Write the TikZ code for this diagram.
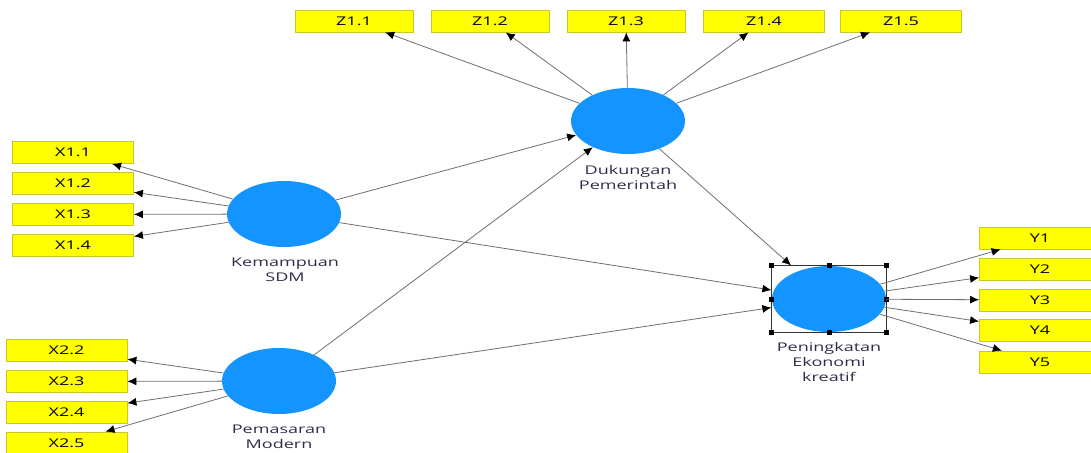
\documentclass[tikz,border=0pt]{standalone}
\usepackage{fontspec}
\setmainfont{Open Sans}
\usetikzlibrary{shapes.geometric,arrows.meta,fit}
\definecolor{indyellow}{RGB}{255,255,0}
\definecolor{indborder}{RGB}{200,200,40}
\definecolor{latblue}{RGB}{20,148,255}
\definecolor{linegray}{RGB}{110,110,110}
\definecolor{labelnavy}{RGB}{45,45,75}
\newcommand{\widetext}[1]{\scalebox{1.5}[1]{#1}}
\begin{document}
\begin{tikzpicture}[
    x=1pt, y=-1pt,
    font=\fontsize{12}{15}\selectfont,
    % indicators and latent variables
    ind/.style={rectangle, draw=indborder, fill=indyellow, line width=0.8pt,
        minimum width=121pt, minimum height=22pt, inner sep=0pt},
    lat/.style={ellipse, fill=latblue, minimum width=114pt, minimum height=66pt, inner sep=0pt},
    latlabel/.style={align=center, inner sep=0pt, text=labelnavy},
    selbox/.style={rectangle, draw=black!80, line width=0.8pt, inner sep=0pt},
    handle/.style={rectangle, fill=black, minimum size=5pt, inner sep=0pt},
    arr/.style={draw=linegray, line width=0.8pt,
        -{Latex[color=black, length=9pt, width=8pt]}},
]
\useasboundingbox (0,0) rectangle (1091,452);

% =========================================================
% Latent variables
% =========================================================
\node[lat] (DP)  at (628, 121) {};
\node[lat] (KS)  at (284, 214) {};
\node[lat] (PM)  at (279, 381) {};
\node[lat] (PEK) at (829, 299) {};

\node[latlabel] (DPlab)  at (628, 177) {\widetext{Dukungan}\\\widetext{Pemerintah}};
\node[latlabel] (KSlab)  at (285, 270) {\widetext{Kemampuan}\\\widetext{SDM}};
\node[latlabel] (PMlab)  at (279, 437) {\widetext{Pemasaran}\\\widetext{Modern}};
\node[latlabel] (PEKlab) at (829, 362) {\widetext{Peningkatan}\\\widetext{Ekonomi}\\\widetext{kreatif}};

% selection frame
\node[selbox, fit=(PEK)] (PEKsel) {};
\node[handle] (h1) at (PEKsel.north west) {};
\node[handle] (h2) at (PEKsel.north) {};
\node[handle] (h3) at (PEKsel.north east) {};
\node[handle] (h4) at (PEKsel.east) {};
\node[handle] (h5) at (PEKsel.south east) {};
\node[handle] (h6) at (PEKsel.south) {};
\node[handle] (h7) at (PEKsel.south west) {};
\node[handle] (h8) at (PEKsel.west) {};

% =========================================================
% Indicators
% =========================================================
\node[ind, minimum width=118pt] (Z11) at (354, 21) {\widetext{Z1.1}};
\node[ind, minimum width=118pt] (Z12) at (490, 21) {\widetext{Z1.2}};
\node[ind, minimum width=118pt] (Z13) at (626, 21) {\widetext{Z1.3}};
\node[ind] (Z14) at (764, 21) {\widetext{Z1.4}};
\node[ind] (Z15) at (901, 21) {\widetext{Z1.5}};

\node[ind] (X11) at (73, 152.5) {\widetext{X1.1}};
\node[ind] (X12) at (73, 183.5) {\widetext{X1.2}};
\node[ind] (X13) at (73, 214.5) {\widetext{X1.3}};
\node[ind] (X14) at (73, 245.5) {\widetext{X1.4}};

\node[ind] (X22) at (66.5, 350.5) {\widetext{X2.2}};
\node[ind] (X23) at (66.5, 381.5) {\widetext{X2.3}};
\node[ind] (X24) at (66.5, 412) {\widetext{X2.4}};
\node[ind] (X25) at (66.5, 443) {\widetext{X2.5}};

\node[ind] (Y1) at (1040, 238) {\widetext{Y1}};
\node[ind] (Y2) at (1040, 269) {\widetext{Y2}};
\node[ind] (Y3) at (1040, 300) {\widetext{Y3}};
\node[ind] (Y4) at (1040, 330.5) {\widetext{Y4}};
\node[ind] (Y5) at (1040, 362) {\widetext{Y5}};

% =========================================================
% Loadings
% =========================================================
\draw[arr] (DP) -- (Z11);
\draw[arr] (DP) -- (Z12);
\draw[arr] (DP) -- (Z13);
\draw[arr] (DP) -- (Z14);
\draw[arr] (DP) -- (Z15);

\draw[arr] (KS) -- (X11);
\draw[arr] (KS) -- (X12);
\draw[arr] (KS) -- (X13);
\draw[arr] (KS) -- (X14);

\draw[arr] (PM) -- (X22);
\draw[arr] (PM) -- (X23);
\draw[arr] (PM) -- (X24);
\draw[arr] (PM) -- (X25);

\draw[arr] (PEK) -- (Y1);
\draw[arr] (PEK) -- (Y2);
\draw[arr] (PEK) -- (Y3);
\draw[arr] (PEK) -- (Y4);
\draw[arr] (PEK) -- (Y5);

% =========================================================
% Structural paths
% =========================================================
\draw[arr] (KS) -- (DP);
\draw[arr] (PM) -- (DP);
\draw[arr] (KS) -- (PEKsel);
\draw[arr] (PM) -- (PEKsel);
\draw[arr] (DP) -- (PEKsel);

\end{tikzpicture}
\end{document}
